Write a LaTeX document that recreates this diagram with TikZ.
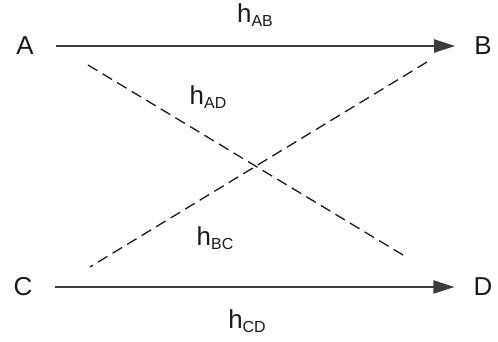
\documentclass[tikz,border=0pt]{standalone}
\usepackage{fontspec}
\setmainfont{Liberation Sans}
\usetikzlibrary{arrows.meta,positioning}
\definecolor{ink}{HTML}{1A1A1A}
\newcommand{\hsub}[1]{h\raisebox{-0.3ex}{\fontsize{16}{16}\selectfont #1}}
\tikzset{vertex/.style={inner sep=0pt,font=\fontsize{26}{26}\selectfont,text=ink},
  gain/.style={inner sep=0pt,font=\fontsize{26}{26}\selectfont,text=ink},
  link/.style={line width=2bp,draw=ink!85,-{Triangle[length=21bp,width=13bp]}},
  cross/.style={line width=1.3bp,draw=ink,dash pattern=on 11bp off 6bp}}

\begin{document}
\begin{tikzpicture}[x=1bp,y=-1bp]
\useasboundingbox (0,0) rectangle (498,341);
\node[vertex] (A) at (25,46) {A};
\node[vertex] (B) at (483,46) {B};
\node[vertex] (C) at (23,287) {C};
\node[vertex] (D) at (483,287) {D};
\draw[link,shorten <=22bp,shorten >=19bp] (A) -- (B);
\draw[link,shorten <=22bp,shorten >=19bp] (C) -- (D);
% dashed cross links
\coordinate (ad1) at (88,65);
\coordinate (ad2) at (408,258);
\coordinate (bc1) at (427,62);
\coordinate (bc2) at (90,267);
\draw[cross] (ad1) -- (ad2);
\draw[cross] (bc1) -- (bc2);
\node[gain] (hab) at (255,15) {\hsub{AB}};
\node[gain] (had) at (208,97) {\hsub{AD}};
\node[gain] (hbc) at (215,238) {\hsub{BC}};
\node[gain] (hcd) at (247,321) {\hsub{CD}};
\end{tikzpicture}
\end{document}
